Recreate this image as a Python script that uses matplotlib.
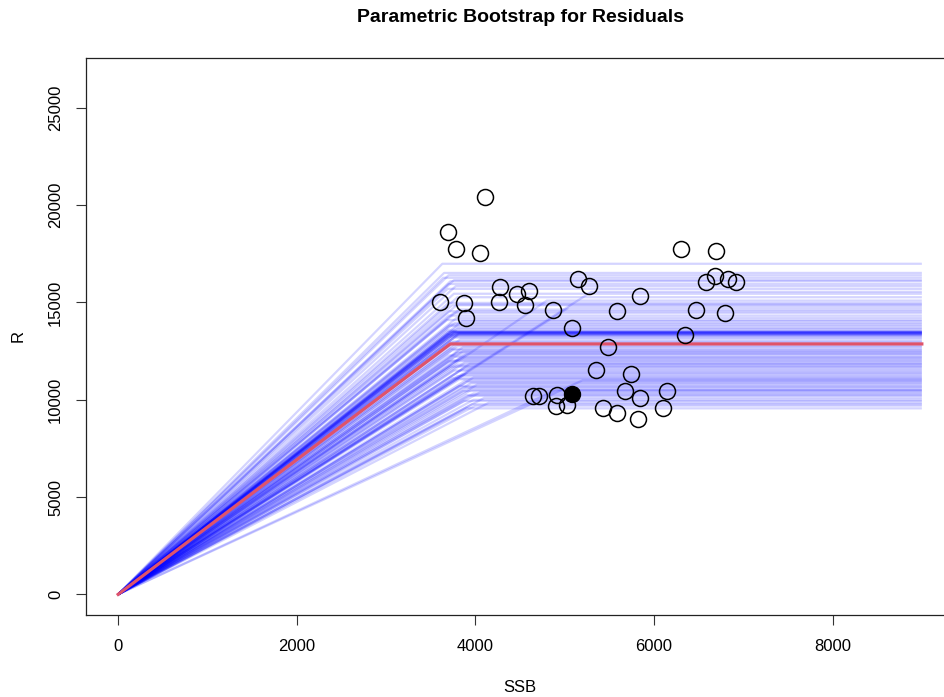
import numpy as np
import matplotlib
matplotlib.use('Agg')
import matplotlib.pyplot as plt

plt.rcParams['font.family'] = ['Liberation Sans', 'DejaVu Sans']

# observed stock-recruitment points
ssb = [4109, 3694, 3784, 4053, 3604, 3873, 3896, 4277, 4265, 4467, 4602, 4557,
       4871, 5151, 5274, 5083, 5588, 5845, 5487, 5352, 5744, 4646, 4713, 4915,
       4904, 5027, 5431, 5588, 5677, 5845, 5823, 6103, 6148, 6305, 6697, 6585,
       6686, 6831, 6921, 6472, 6797, 6350]
rec = [20436, 18641, 17769, 17564, 15051, 14949, 14179, 15821, 15051, 15462, 15615, 14846,
       14590, 16231, 15872, 13667, 14538, 15359, 12692, 11513, 11308, 10179, 10179, 10231,
       9667, 9718, 9564, 9308, 10436, 10077, 9000, 9564, 10436, 17769, 17667, 16077,
       16385, 16231, 16077, 14590, 14436, 13308]
# last year (filled)
ssb_last = 5083
rec_last = 10282

# fitted hockey-stick
fit_break = 3720
fit_plateau = 12870

# bootstrap replicates: plateau and breakpoint
boot_plateau = [16990, 16520, 16400, 16270, 16090, 15840, 15700, 15450, 15270, 14980,
                14860, 14640, 14470, 14330, 14210, 14040, 13870, 13700, 13560, 13480,
                13410, 13330, 13190, 12760, 12620, 12500, 12390, 12280, 12160, 12030,
                11910, 11820, 11700, 11560, 11360, 11220, 11100, 10970, 10850, 10710,
                10590, 10450, 10320, 10200, 9940, 9770, 9560,
                14100, 13950, 13800, 13650, 13520, 13480, 13450, 13430, 13400, 13380,
                13350, 13300, 13250, 13100, 13000, 12950, 12850, 12700, 12550, 12450,
                12350, 12200, 12100, 11980, 11850, 11750, 11650, 11500, 11420, 11300,
                11150, 11050, 10900, 10780, 10650, 10500, 10380, 10250, 10100, 10000,
                9850, 9700, 13500, 13460, 13420, 15100, 14750, 14550, 14900, 15550,
                15950, 16150, 10500, 11000]
boot_break = [3630, 3650, 3700, 3640, 3720, 3780, 3690, 3760, 3800, 3700,
              3740, 3820, 3760, 3700, 3790, 3850, 3720, 3780, 3690, 3750,
              3820, 3700, 3760, 3800, 3720, 3860, 3780, 3700, 3830, 3750,
              3880, 3790, 3720, 3850, 3900, 3800, 3740, 3880, 3950, 3820,
              3900, 3860, 3980, 3920, 3870, 3960, 3900,
              3680, 3770, 3710, 3800, 3740, 3700, 3780, 3720, 3760, 3690,
              3810, 3740, 3700, 3830, 3760, 3720, 3790, 3860, 3740, 3800,
              3900, 3760, 3820, 3700, 3940, 3800, 3880, 3760, 3920, 3850,
              3980, 3820, 3900, 4020, 3860, 3950, 4050, 3900, 4100, 3980,
              4150, 4000, 3720, 3760, 3800, 4800, 5050, 3700, 3800, 5300,
              3700, 3760, 4900, 5200]
ssb_max = 9000

fig = plt.figure(figsize=(9.45, 6.97), dpi=100)
ax = fig.add_axes([86/945, 1 - 615/697, (954 - 86)/945, (615 - 57.7)/697])

for p, b in zip(boot_plateau, boot_break):
    ax.plot([0, b, ssb_max], [0, p, p], color=(0, 0, 1, 0.17), lw=1.6,
            solid_capstyle='butt', zorder=1)

ax.plot([0, fit_break, ssb_max], [0, fit_plateau, fit_plateau], color='#DF536B', lw=2.3, zorder=3)

ax.plot(ssb, rec, 'o', mfc='none', mec='black', mew=1.1, ms=11.5, zorder=4)
ax.plot([ssb_last], [rec_last], 'o', mfc='black', mec='black', ms=11.5, zorder=4)

ax.set_xlim(-360, 9360)
ax.set_ylim(-1061, 27581)
ax.set_xticks([0, 2000, 4000, 6000, 8000])
ax.set_yticks([0, 5000, 10000, 15000, 20000, 25000])
ax.tick_params(axis='both', direction='out', length=7.5, width=0.8, labelsize=12, color='#333333')
ax.tick_params(axis='x', pad=10)
ax.tick_params(axis='y', pad=9)
for lab in ax.get_yticklabels():
    lab.set_rotation(90)
    lab.set_va('center')
for s in ax.spines.values():
    s.set_linewidth(0.9)
    s.set_color('#222222')

fig.text(18/945, 1 - 336/697, 'R', rotation=90, ha='center', va='center', fontsize=12)
fig.text(520/945, 1 - 687/697, 'SSB', ha='center', va='center', fontsize=12)
fig.text(521/945, 1 - 18/697, 'Parametric Bootstrap for Residuals', ha='center', va='center',
         fontsize=14, fontweight='bold')

fig.savefig('out.png', dpi=100)
